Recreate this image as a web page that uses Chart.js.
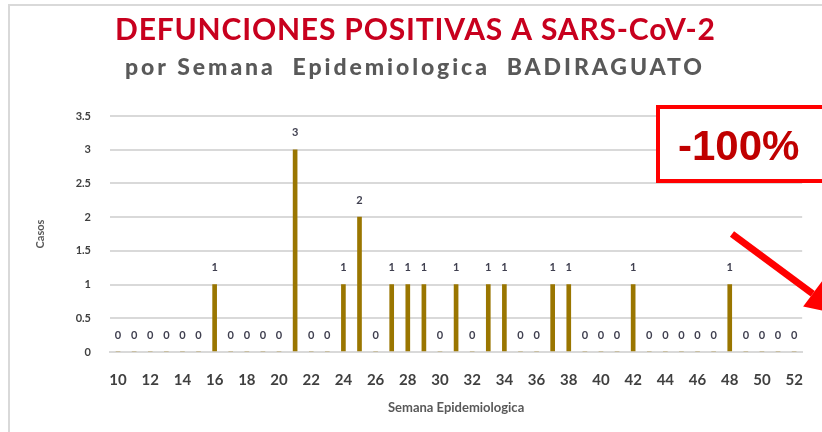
<!DOCTYPE html>
<html>
<head>
<meta charset="utf-8">
<script src="https://cdn.jsdelivr.net/npm/chart.js@4/dist/chart.umd.min.js"></script>
<style>
  html, body { margin: 0; padding: 0; background: #fff; }
  #wrap { width: 822px; height: 432px; position: relative; }
</style>
</head>
<body>
<div id="wrap"><canvas id="deathsChart" width="822" height="432"></canvas></div>
<script>
'use strict';

// epidemiological weeks 10..52 and deaths per week
const weeks = ['10', '11', '12', '13', '14', '15', '16', '17', '18', '19', '20',
  '21', '22', '23', '24', '25', '26', '27', '28', '29', '30', '31', '32', '33',
  '34', '35', '36', '37', '38', '39', '40', '41', '42', '43', '44', '45', '46',
  '47', '48', '49', '50', '51', '52'];
const deaths = [0, 0, 0, 0, 0, 0, 1, 0, 0, 0, 0,
  3, 0, 0, 1, 2, 0, 1, 1, 1, 0, 1, 0, 1,
  1, 0, 0, 1, 1, 0, 0, 0, 1, 0, 0, 0, 0,
  0, 1, 0, 0, 0, 0];
const yTicks = [0, 0.5, 1, 1.5, 2, 2.5, 3, 3.5];

const titleText = 'DEFUNCIONES POSITIVAS A SARS-CoV-2';
const subtitleText = 'por Semana  Epidemiologica  BADIRAGUATO';
const changeText = '-100%';

const baseFont = 'Lato, "Open Sans", sans-serif';
const gray = '#595959';

// draws a line of text spread over a given width, starting at x
function spreadText (c, text, x, y, width) {
  c.letterSpacing = '0px';
  let natural = c.measureText(text).width;
  let gap = Math.max(0, (width - natural) / (text.length - 1));
  c.letterSpacing = gap.toFixed(2) + 'px';
  c.textAlign = 'left';
  c.fillText(text, x, y, width + gap);
  c.letterSpacing = '0px';
}

// frame, headings, value labels and the change callout
const decorations = {
  id: 'decorations',
  beforeDraw (chart) {
    let c = chart.ctx;
    c.save();
    c.strokeStyle = '#d9d9d9';
    c.lineWidth = 2;
    c.beginPath();
    c.moveTo(9, 432);
    c.lineTo(9, 5);
    c.lineTo(822, 5);
    c.stroke();

    c.textBaseline = 'alphabetic';
    c.fillStyle = '#c8001e';
    c.font = 'bold 30px ' + baseFont;
    spreadText(c, titleText, 115, 40, 600);
    c.fillStyle = gray;
    c.font = '900 23px ' + baseFont;
    spreadText(c, subtitleText, 125, 75, 577);
    c.restore();
  },
  afterDatasetsDraw (chart) {
    let c = chart.ctx;
    let meta = chart.getDatasetMeta(0);
    c.save();
    c.font = 'bold 11px ' + baseFont;
    c.fillStyle = '#404050';
    c.textAlign = 'center';
    c.textBaseline = 'middle';
    meta.data.forEach((bar, i) => {
      c.fillText(String(deaths[i]), bar.x, bar.y - 17);
    });
    c.restore();
  },
  afterDraw (chart) {
    let c = chart.ctx;
    c.save();
    // boxed percentage
    c.fillStyle = '#fff';
    c.fillRect(658, 107, 180, 74);
    c.strokeStyle = '#ff0000';
    c.lineWidth = 4;
    c.strokeRect(658, 107, 180, 74);
    c.fillStyle = '#c00000';
    c.font = 'bold 42px "Liberation Sans", Arial, sans-serif';
    c.textAlign = 'left';
    c.textBaseline = 'alphabetic';
    c.fillText(changeText, 678, 160);

    // arrow pointing down-right
    let x0 = 732, y0 = 234, x1 = 840, y1 = 314;
    let ang = Math.atan2(y1 - y0, x1 - x0);
    let head = 34, half = 16;
    let bx = x1 - head * Math.cos(ang), by = y1 - head * Math.sin(ang);
    c.strokeStyle = '#ff0000';
    c.lineWidth = 7;
    c.beginPath();
    c.moveTo(x0, y0);
    c.lineTo(bx, by);
    c.stroke();
    c.fillStyle = '#ff0000';
    c.beginPath();
    c.moveTo(x1, y1);
    c.lineTo(bx + half * Math.sin(ang), by - half * Math.cos(ang));
    c.lineTo(bx - half * Math.sin(ang), by + half * Math.cos(ang));
    c.closePath();
    c.fill();
    c.restore();
  }
};

let ctx = document.getElementById('deathsChart').getContext('2d');

let chart = new Chart(ctx, {
  type: 'bar',
  data: {
    labels: weeks,
    datasets: [{
      label: 'Defunciones',
      data: deaths,
      backgroundColor: '#9a7600',
      borderWidth: 0,
      barThickness: 4
    }]
  },
  options: {
    responsive: false,
    animation: false,
    layout: { padding: { top: 116, left: 10, right: 15, bottom: 10 } },
    plugins: {
      legend: { display: false },
      tooltip: { enabled: false }
    },
    scales: {
      x: {
        grid: { display: false, drawTicks: false },
        border: { color: '#d9d9d9', width: 2 },
        afterFit: (scale) => { scale.height = 70; },
        ticks: {
          autoSkip: false,
          maxRotation: 0,
          padding: 19,
          color: '#404040',
          font: { family: baseFont, size: 15, weight: 'bold' },
          callback: function (val, i) { return i % 2 === 0 ? this.getLabelForValue(val) : ''; }
        },
        title: {
          display: true,
          text: 'Semana Epidemiologica',
          color: gray,
          font: { family: baseFont, size: 13, weight: 'bold' },
          padding: { top: 4, bottom: 6 }
        }
      },
      y: {
        min: 0,
        max: 3.5,
        afterFit: (scale) => { scale.width = 100; },
        afterBuildTicks: (scale) => { scale.ticks = yTicks.map(v => ({ value: v })); },
        grid: { color: '#d9d9d9', lineWidth: 2, drawTicks: false },
        border: { display: false },
        ticks: {
          padding: 19,
          color: '#404040',
          font: { family: baseFont, size: 11, weight: 'bold' },
          callback: (v) => String(v)
        },
        title: {
          display: true,
          text: 'Casos',
          color: gray,
          font: { family: baseFont, size: 11, weight: 'bold' },
          padding: { top: 24, bottom: 0 }
        }
      }
    }
  },
  plugins: [decorations]
});
</script>
</body>
</html>
